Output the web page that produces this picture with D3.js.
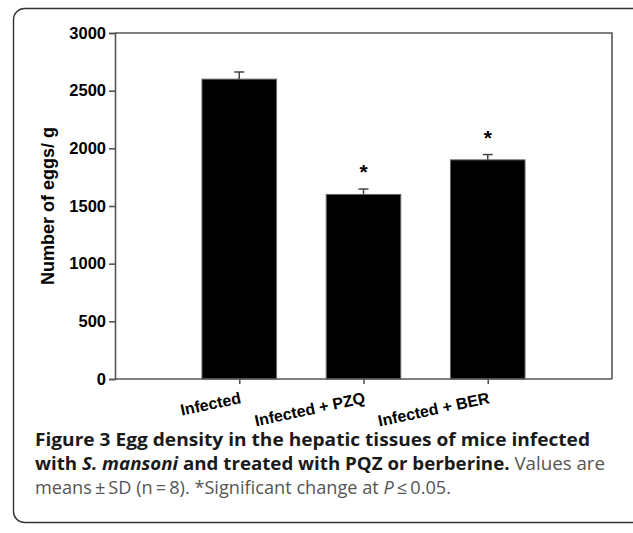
<!DOCTYPE html>
<html>
<head>
<meta charset="utf-8">
<script src="https://cdn.jsdelivr.net/npm/d3@7"></script>
<style>
  body { margin: 0; background: #fff; }
  svg { display: block; }
</style>
</head>
<body>
<svg width="633" height="533"></svg>
<script>
// data
const groups = ["Infected", "Infected + PZQ", "Infected + BER"];
const means = [2600, 1600, 1900];
const sds = [62, 47, 46];
const significant = [false, true, true];
const yTicks = [0, 500, 1000, 1500, 2000, 2500, 3000];

var svg = d3.select("svg"),
    width = +svg.attr("width"),
    height = +svg.attr("height");

// panel border (rounded, runs off the right edge)
svg.append("rect")
    .attr("x", 13.5).attr("y", 8.5)
    .attr("width", 640).attr("height", 514)
    .attr("rx", 11)
    .attr("fill", "none")
    .attr("stroke", "#333")
    .attr("stroke-width", 1.4);

var margin = {left: 115, right: 612, top: 33, bottom: 379};

var x = d3.scalePoint()
    .domain(groups)
    .range([margin.left, margin.right])
    .padding(1);

var y = d3.scaleLinear()
    .domain([0, 3000])
    .range([margin.bottom, margin.top]);

var barW = x.step() * 0.6;
var axisColor = "#555";
var chartFont = "Liberation Sans, Arial, sans-serif";

// bars
svg.append("g")
    .selectAll("rect")
    .data(groups)
    .enter().append("rect")
        .attr("x", d => x(d) - barW / 2)
        .attr("y", (d, i) => y(means[i]))
        .attr("width", barW)
        .attr("height", (d, i) => y(0) - y(means[i]))
        .attr("fill", "#000")
        .attr("stroke", "#666")
        .attr("stroke-width", 1);

// error bars (upper half only)
var err = svg.append("g").attr("stroke", "#444").attr("stroke-width", 1.5);
groups.forEach(function(g, i) {
    err.append("line")
        .attr("x1", x(g)).attr("x2", x(g))
        .attr("y1", y(means[i])).attr("y2", y(means[i] + sds[i]));
    err.append("line")
        .attr("x1", x(g) - 5).attr("x2", x(g) + 5)
        .attr("y1", y(means[i] + sds[i])).attr("y2", y(means[i] + sds[i]));
});

// significance stars
svg.append("g")
    .selectAll("text")
    .data(groups.filter((d, i) => significant[i]))
    .enter().append("text")
        .attr("x", d => x(d))
        .attr("y", d => { var i = groups.indexOf(d); return y(means[i] + sds[i]) - 10; })
        .attr("text-anchor", "middle")
        .attr("font-family", chartFont)
        .attr("font-weight", "bold")
        .attr("font-size", 21)
        .text("*");

// frame: top and right
svg.append("path")
    .attr("d", `M${margin.left},${margin.top}H${margin.right}V${margin.bottom}`)
    .attr("fill", "none")
    .attr("stroke", axisColor)
    .attr("stroke-width", 1.6);

// y axis
var yAxis = svg.append("g")
    .attr("transform", `translate(${margin.left},0)`)
    .call(d3.axisLeft(y).tickValues(yTicks).tickSize(6).tickPadding(3).tickFormat(d3.format("d")));
yAxis.selectAll("path, line").attr("stroke", axisColor).attr("stroke-width", 1.6);
yAxis.selectAll("text")
    .attr("font-family", chartFont)
    .attr("font-weight", "bold")
    .attr("font-size", 16.5)
    .attr("fill", "#000");

// x axis
var xAxis = svg.append("g")
    .attr("transform", `translate(0,${margin.bottom})`)
    .call(d3.axisBottom(x).tickSize(5).tickSizeOuter(0));
xAxis.select(".domain").attr("d", `M${margin.left},0H${margin.right}`);
xAxis.selectAll("path, line").attr("stroke", axisColor).attr("stroke-width", 1.6);
xAxis.selectAll("text")
    .attr("font-family", chartFont)
    .attr("font-weight", "bold")
    .attr("font-size", 16)
    .attr("fill", "#000")
    .attr("text-anchor", "end")
    .attr("dy", null)
    .attr("y", 0)
    .attr("transform", "translate(2,24) rotate(-12)");

// y label
svg.append("text")
    .attr("transform", `translate(54,${(margin.top + margin.bottom) / 2}) rotate(-90)`)
    .attr("text-anchor", "middle")
    .attr("font-family", chartFont)
    .attr("font-weight", "bold")
    .attr("font-size", 18)
    .text("Number of eggs/ g");

// caption
var cap = svg.append("g")
    .attr("font-family", "Open Sans, sans-serif")
    .attr("font-size", 17.5);

var l1 = cap.append("text").attr("x", 35).attr("y", 446)
    .attr("font-weight", "bold").attr("fill", "#1a1a1a");
l1.append("tspan").text("Figure 3 Egg density in the hepatic tissues of mice infected");

var l2 = cap.append("text").attr("x", 35).attr("y", 470).attr("fill", "#1a1a1a");
l2.append("tspan").attr("font-weight", "bold").text("with ");
l2.append("tspan").attr("font-weight", "bold").attr("font-style", "italic").text("S. mansoni");
l2.append("tspan").attr("font-weight", "bold").text(" and treated with PQZ or berberine.");
l2.append("tspan").attr("fill", "#555").text(" Values are");

var l3 = cap.append("text").attr("x", 35).attr("y", 494).attr("fill", "#555");
l3.append("tspan").text("means\u2009\u00b1\u2009SD (n\u2009=\u20098). *Significant change at ");
l3.append("tspan").attr("font-style", "italic").text("P");
l3.append("tspan").text("\u2009\u2264\u20090.05.");

// squeeze caption lines to the printed widths
[[l1, 555], [l2, 570], [l3, 416]].forEach(function(p) {
    p[0].attr("textLength", p[1]).attr("lengthAdjust", "spacingAndGlyphs");
});
</script>
</body>
</html>
